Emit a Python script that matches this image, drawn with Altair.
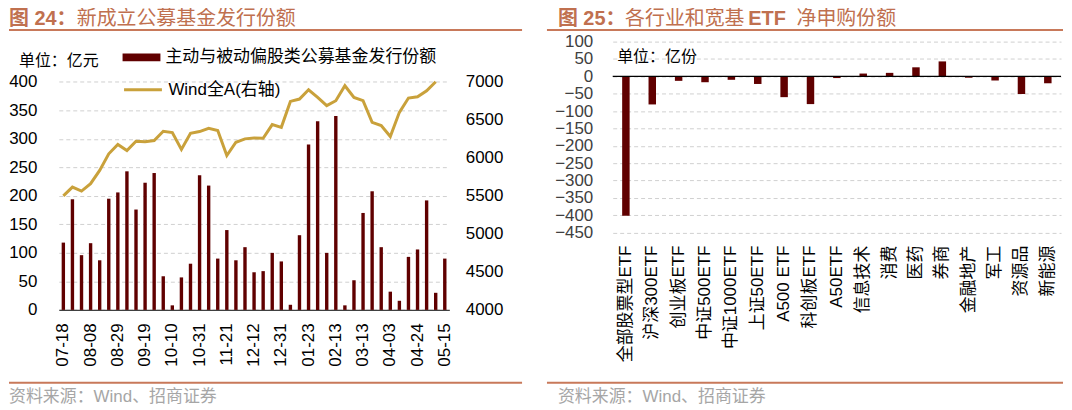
import numpy as np
import pandas as pd
import altair as alt

# ---- data ----
dates = ['07-18', '07-25', '08-01', '08-08', '08-15', '08-22', '08-29', '09-05', '09-12', '09-19',
         '09-26', '10-03', '10-10', '10-17', '10-24', '10-31', '11-07', '11-14', '11-21', '11-28',
         '12-05', '12-12', '12-19', '12-26', '12-31', '01-09', '01-16', '01-23', '01-30', '02-06',
         '02-13', '02-20', '03-06', '03-13', '03-20', '03-27', '04-03', '04-10', '04-17', '04-24',
         '04-30', '05-08', '05-15']
date_ticks = dates[::3]

# 主动与被动偏股类公募基金发行份额 (亿元)
fund_issue = [118, 194, 96, 117, 87, 195, 206, 243, 176, 223,
              240, 59, 8, 57, 81, 236, 218, 90, 140, 87,
              110, 66, 68, 100, 85, 9, 131, 290, 331, 100,
              340, 8, 52, 170, 208, 110, 32, 16, 93, 106,
              192, 30, 90]

# Wind全A (右轴)
wind_all_a = [5500, 5615, 5563, 5660, 5834, 6053, 6175, 6096, 6218, 6210,
              6227, 6349, 6332, 6110, 6323, 6345, 6388, 6358, 6030, 6205,
              6249, 6262, 6257, 6437, 6401, 6742, 6773, 6895, 6794, 6686,
              6751, 6948, 6794, 6751, 6467, 6424, 6280, 6598, 6786, 6803,
              6882, 7000, None]

etf_names = ['全部股票型ETF', '沪深300ETF', '创业板ETF', '中证500ETF', '中证1000ETF',
             '上证50ETF', 'A500 ETF', '科创板ETF', 'A50ETF', '信息技术', '消费',
             '医药', '券商', '金融地产', '军工', '资源品', '新能源']
etf_net = [-402, -81, -13, -17, -10, -22, -60, -80, -5, 8, 10, 26, 43, -4, -12, -51, -20]

left_ticks = list(range(0, 401, 50))
right_ticks = list(range(4000, 7001, 500))
etf_ticks = list(range(-450, 101, 50))

# ---- styles ----
BAR_COLOR = '#600000'
LINE_COLOR = '#C9A13B'
TITLE_COLOR = '#C0704F'
RULE_COLOR = '#C8795A'
SOURCE_COLOR = '#A6A6A6'
GRID_COLOR = '#D0D0D0'
MIX_FONT = 'Liberation Sans, Noto Sans CJK SC, sans-serif'


def text_layer(text, x, y, size=17, color='black', weight='normal'):
    return alt.Chart(pd.DataFrame({'t': [text]})).mark_text(
        align='left', baseline='middle', font=MIX_FONT, fontSize=size,
        fontWeight=weight, color=color
    ).encode(text='t:N', x=alt.value(x), y=alt.value(y))


def rule_layer(x1, x2, y, color=RULE_COLOR, width=2):
    return alt.Chart(pd.DataFrame({'t': [0]})).mark_rule(
        color=color, strokeWidth=width
    ).encode(x=alt.value(x1), x2=alt.value(x2), y=alt.value(y))


# ---- left panel: fund issuance + Wind All A ----
LW, LH = 392, 269.3
left_df = pd.DataFrame({
    'date': dates,
    'fund': fund_issue,
    'wind': wind_all_a,
    'bar_name': '主动与被动偏股类公募基金发行份额',
    'line_name': 'Wind全A(右轴)',
})

x_left = alt.X(
    'date:N', sort=dates, title=None,
    scale=alt.Scale(paddingInner=0, paddingOuter=0),
    axis=alt.Axis(values=date_ticks, labelAngle=-90, labelFont=MIX_FONT, labelFontSize=17,
                  labelColor='black', labelPadding=13, ticks=False, tickSize=0,
                  domainColor='#404040', domainWidth=1.3, grid=False),
)

bars = alt.Chart(left_df).mark_bar(size=3.4).encode(
    x=x_left,
    y=alt.Y('fund:Q', title=None,
            scale=alt.Scale(domain=[0, 470.4], nice=False),
            axis=alt.Axis(values=left_ticks, grid=True, gridDash=[4, 3], gridColor=GRID_COLOR,
                          domain=False, ticks=False, tickSize=0, labelPadding=22,
                          labelOverlap=False, format='d',
                          labelFont=MIX_FONT, labelFontSize=17, labelColor='black')),
    color=alt.Color('bar_name:N', scale=alt.Scale(range=[BAR_COLOR]),
                    legend=alt.Legend(title=None, orient='none', legendX=64, legendY=-3.2,
                                      symbolType='M-1,-0.21H1V0.21H-1Z', symbolSize=1444,
                                      symbolStrokeWidth=0, labelFont=MIX_FONT, labelFontSize=17,
                                      labelColor='black', labelLimit=500, labelOffset=5, padding=0)),
)

line = alt.Chart(left_df).mark_line(strokeWidth=3).encode(
    x=x_left,
    y=alt.Y('wind:Q', title=None,
            scale=alt.Scale(domain=[4000, 7527.9], nice=False, zero=False),
            axis=alt.Axis(orient='right', values=right_ticks, grid=False, domain=False,
                          ticks=False, tickSize=0, labelPadding=16,
                          labelOverlap=False, format='d',
                          labelFont=MIX_FONT, labelFontSize=17, labelColor='black')),
    stroke=alt.Stroke('line_name:N', scale=alt.Scale(range=[LINE_COLOR]),
                      legend=alt.Legend(title=None, orient='none', legendX=64, legendY=27.8,
                                        symbolType='stroke', symbolSize=1444, symbolStrokeWidth=3,
                                        labelFont=MIX_FONT, labelFontSize=17, labelColor='black',
                                        labelLimit=500, labelOffset=5, padding=0)),
)

left = alt.layer(
    bars, line,
    text_layer('图 24：', -50, -22.7, size=20, color=TITLE_COLOR, weight='bold'),
    text_layer('新成立公募基金发行份额', 18, -22.7, size=20, color=TITLE_COLOR),
    rule_layer(-50, 465, -11.7),
    text_layer('单位：亿元', -40, 19.3, size=16),
    rule_layer(-50, 465, 342.3),
    text_layer('资料来源：Wind、招商证券', -50, 357, size=17, color=SOURCE_COLOR),
).resolve_scale(y='independent').properties(width=LW, height=LH)

# ---- right panel: ETF net subscription ----
RW, RH = 450, 191.6
etf_df = pd.DataFrame({'name': etf_names, 'net': etf_net})

etf_y_scale = alt.Scale(domain=[-450, 100], nice=False)
etf_y_axis = alt.Axis(values=etf_ticks, grid=True, gridDash=[4, 3], gridColor=GRID_COLOR,
                      domain=False, ticks=False, tickSize=0, labelPadding=20,
                      labelOverlap=False, format='d',
                      labelFont=MIX_FONT, labelFontSize=17, labelColor='#404040')

etf_bars = alt.Chart(etf_df).mark_bar(size=7.5, color=BAR_COLOR).encode(
    x=alt.X('name:N', sort=etf_names, title=None,
            scale=alt.Scale(paddingInner=0, paddingOuter=0),
            axis=alt.Axis(labelAngle=-90, labelFont=MIX_FONT, labelFontSize=17,
                          labelColor='black', labelPadding=12.7, ticks=False, tickSize=0,
                          domain=False, grid=False)),
    y=alt.Y('net:Q', title=None, scale=etf_y_scale, axis=etf_y_axis),
)

zero_line = alt.Chart(pd.DataFrame({'net': [0]})).mark_rule(color='black', strokeWidth=1.3).encode(
    y=alt.Y('net:Q', title=None, scale=etf_y_scale, axis=etf_y_axis)
)

right = alt.layer(
    etf_bars, zero_line,
    text_layer('图 25：', -55, -22.7, size=20, color=TITLE_COLOR, weight='bold'),
    text_layer('各行业和宽基', 12.4, -22.7, size=20, color=TITLE_COLOR),
    text_layer('ETF', 136, -22.7, size=20, color=TITLE_COLOR, weight='bold'),
    text_layer('净申购份额', 184.5, -22.7, size=20, color=TITLE_COLOR),
    rule_layer(-66, 452, -11.7),
    text_layer('单位：亿份', 4.5, 15.3, size=16),
    rule_layer(-66, 452, 342.3),
    text_layer('资料来源：Wind、招商证券', -55, 357, size=17, color=SOURCE_COLOR),
).properties(width=RW, height=RH)

chart = alt.hconcat(left, right, spacing=23).properties(
    padding=0
).configure_view(stroke=None)

chart.save("out.html", embed_options={"renderer": "svg", "actions": False})
